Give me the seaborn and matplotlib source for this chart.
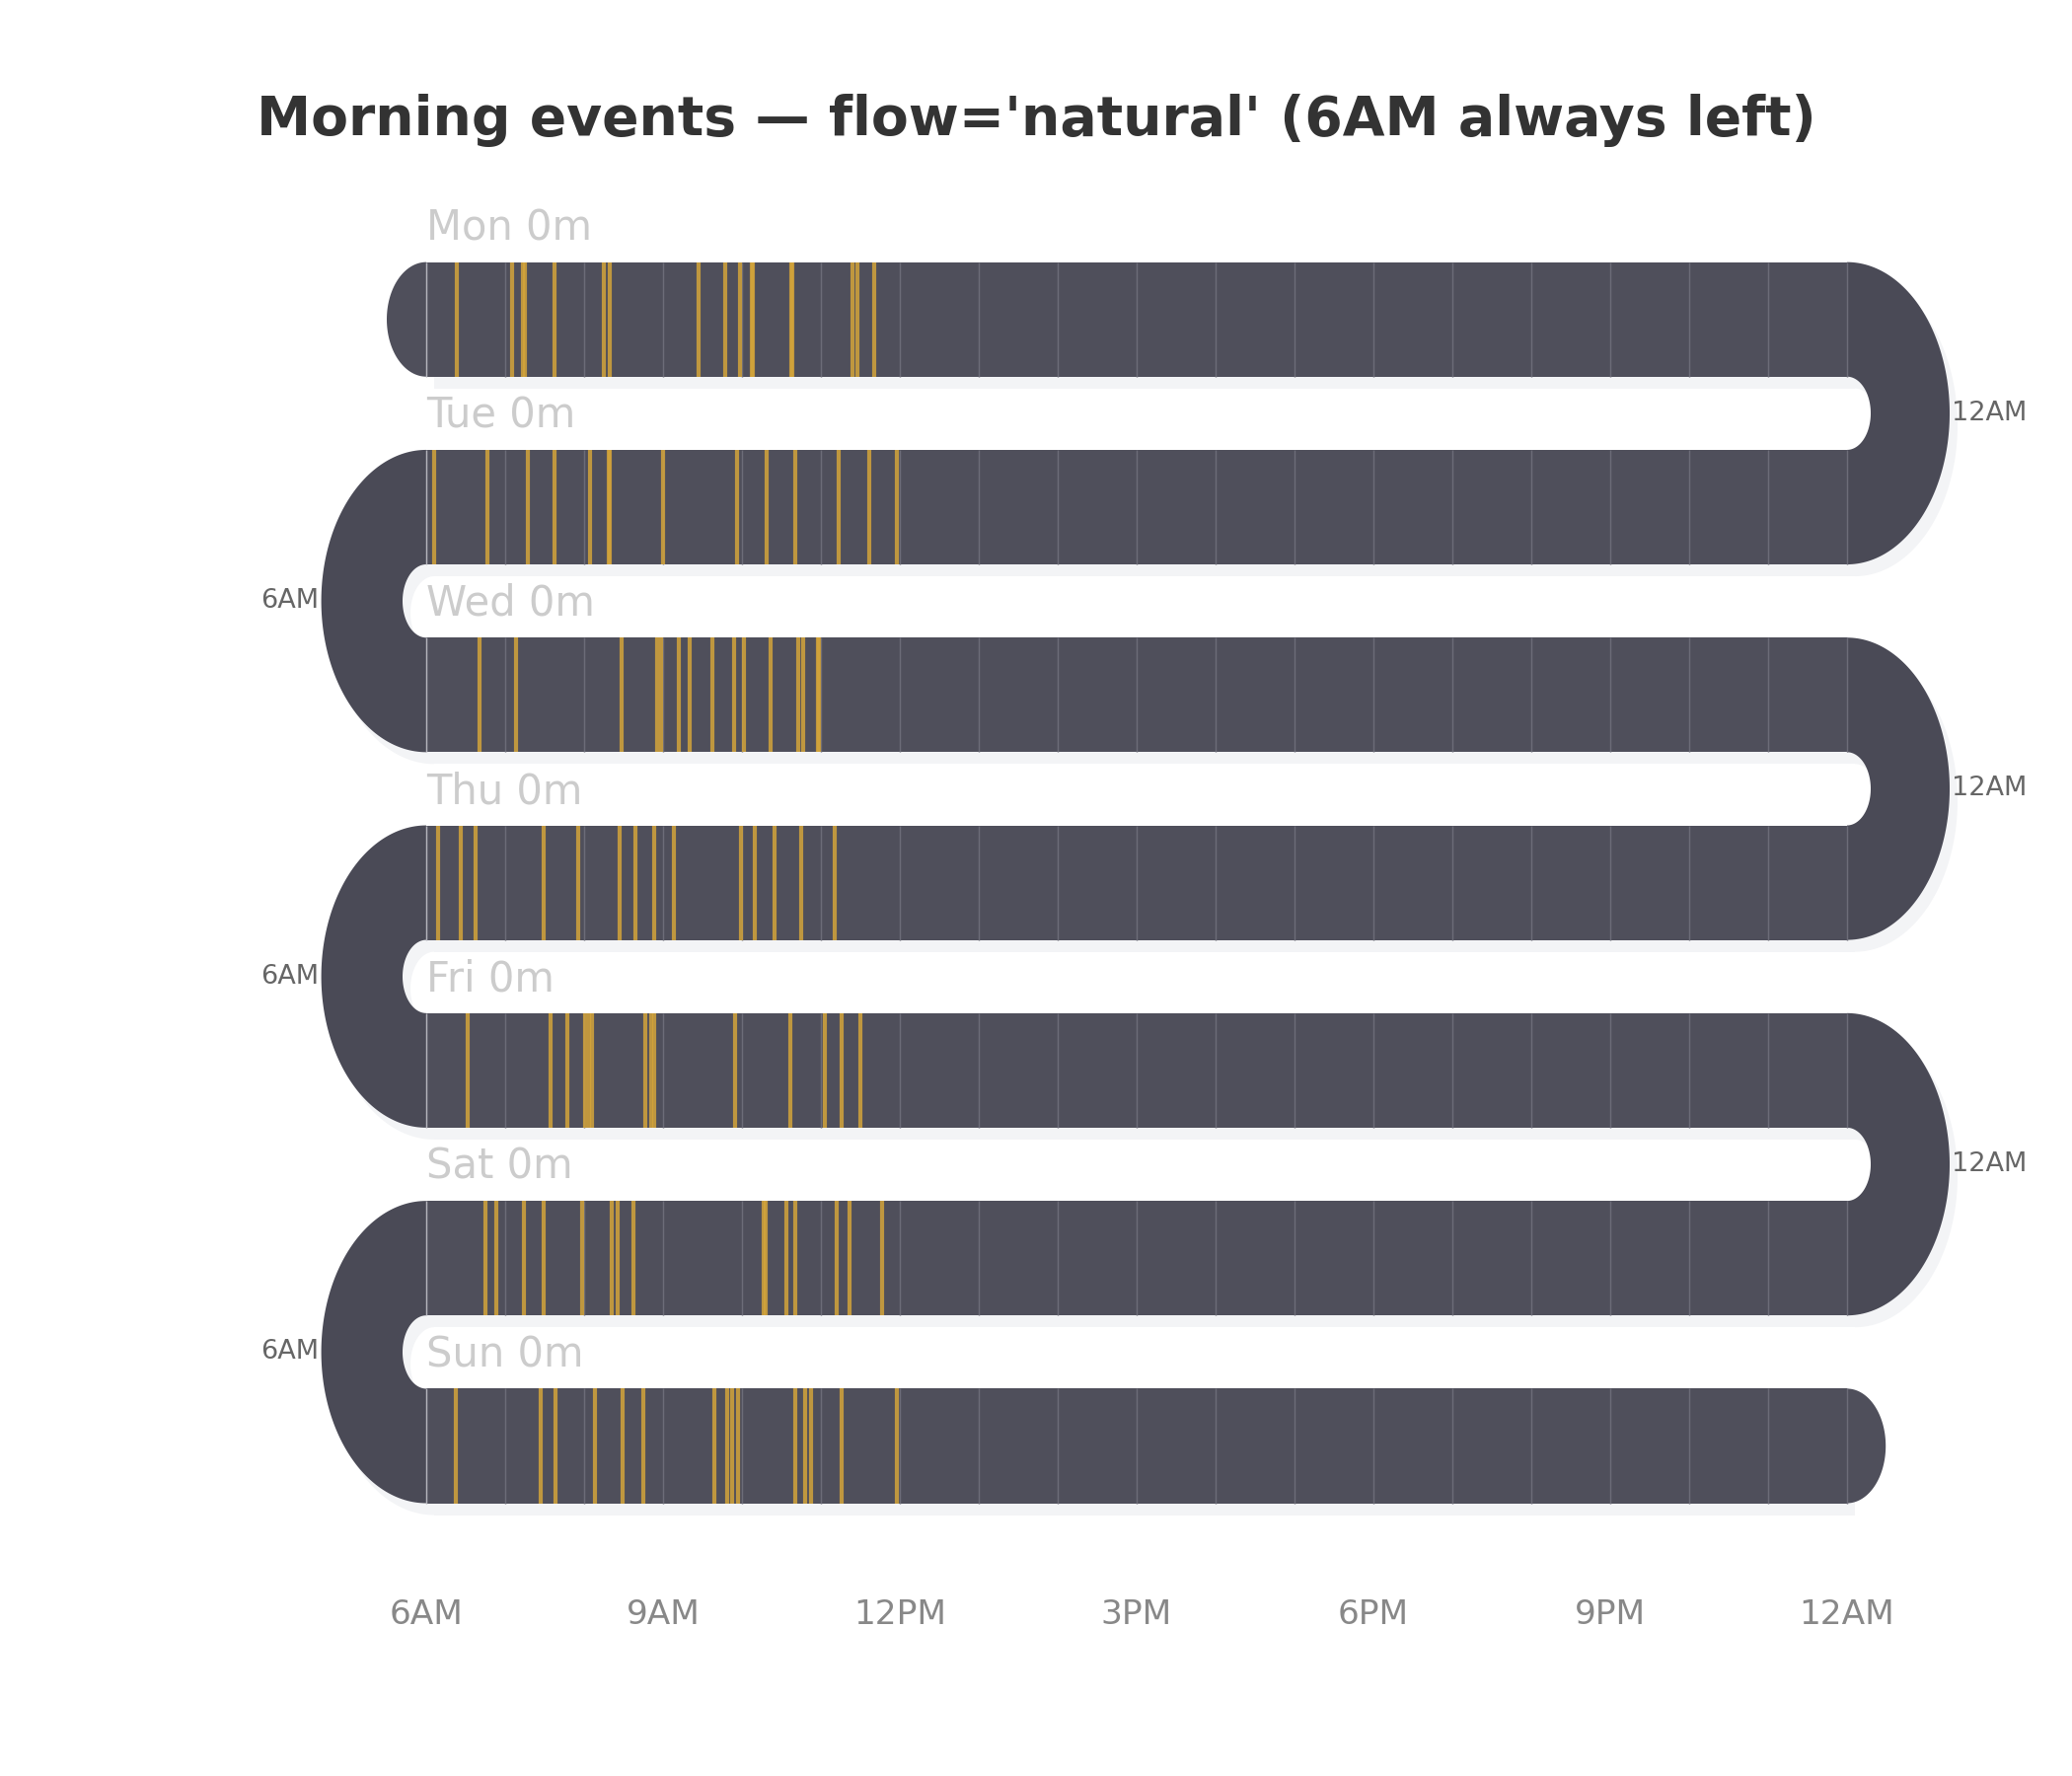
import numpy as np
import pandas as pd
import matplotlib
matplotlib.use("Agg")
import matplotlib.pyplot as plt
import matplotlib.transforms as mtransforms
from matplotlib.patches import Polygon, Rectangle
import seaborn as sns

# event clock times (decimal hours)
days = ["Mon", "Tue", "Wed", "Thu", "Fri", "Sat", "Sun"]
durations = ["0m", "0m", "0m", "0m", "0m", "0m", "0m"]
mon = [6.39, 7.09, 7.23, 7.25, 7.62, 8.25, 8.32, 9.45, 9.79, 9.98, 10.12, 10.14, 10.62, 10.64, 11.40, 11.46, 11.68]
tue = [6.10, 6.77, 7.29, 7.62, 8.07, 8.31, 8.33, 9.00, 9.94, 10.31, 10.68, 11.23, 11.61, 11.96]
wed = [6.68, 7.14, 8.48, 8.92, 8.98, 9.20, 9.34, 9.62, 9.90, 10.03, 10.36, 10.71, 10.78, 10.96, 10.98]
thu = [6.15, 6.44, 6.63, 7.49, 7.92, 8.45, 8.65, 8.89, 9.14, 9.99, 10.16, 10.41, 10.75, 11.18]
fri = [6.53, 7.57, 7.79, 8.01, 8.06, 8.10, 8.77, 8.85, 8.89, 9.91, 10.61, 11.05, 11.26, 11.50]
sat = [6.75, 6.89, 7.24, 7.49, 7.97, 8.35, 8.42, 8.62, 10.28, 10.30, 10.56, 10.68, 11.20, 11.36, 11.78]
sun = [6.38, 7.45, 7.64, 8.14, 8.49, 8.75, 9.65, 9.81, 9.87, 9.95, 10.68, 10.80, 10.88, 11.26, 11.96]
tick_hours = [6, 9, 12, 15, 18, 21, 24]
tick_labels = ["6AM", "9AM", "12PM", "3PM", "6PM", "9PM", "12AM"]

events = pd.DataFrame(
    [(d, t) for d, ts in zip(days, [mon, tue, wed, thu, fri, sat, sun]) for t in ts],
    columns=["day", "hour"],
)
events["row"] = events["day"].map({d: i for i, d in enumerate(days)})

sns.set_theme(style="white")
plt.rcParams["font.family"] = ["DejaVu Sans"]

BAND = 0.61
HALF = BAND / 2
START, END = 6, 24
band_col = "#4f4f5b"
turn_col = "#4a4a56"
shadow_col = "#f3f4f6"
grid_col = "#6c6c78"
event_col = "#d4a43a"

fig = plt.figure(figsize=(14, 12), dpi=150)
ax = fig.add_axes([0, 0, 1, 1])
ax.set_xlim(0.6, 26.85)
ax.set_ylim(7.758, -1.701)
ax.axis("off")

shadow_tr = mtransforms.offset_copy(ax.transData, fig=fig, x=8, y=-12, units="dots")


def half_ring(xc, yc, rx_out, ry_out, rx_in, ry_in, side):
    th = np.linspace(-np.pi / 2, np.pi / 2, 120)
    outer = np.column_stack([xc + side * rx_out * np.cos(th), yc + ry_out * np.sin(th)])
    inner = np.column_stack([xc + side * rx_in * np.cos(th[::-1]), yc + ry_in * np.sin(th[::-1])])
    return np.vstack([outer, inner])


def half_cap(xc, yc, rx, ry, side):
    th = np.linspace(-np.pi / 2, np.pi / 2, 80)
    return np.column_stack([xc + side * rx * np.cos(th), yc + ry * np.sin(th)])


shapes = []
for i in range(len(days)):
    shapes.append(("rect", i))
for i in range(len(days) - 1):
    shapes.append(("turn", i))

for kind, i in shapes:
    for tr, col, z in [(shadow_tr, shadow_col, 1), (ax.transData, None, 2)]:
        if kind == "rect":
            p = Rectangle((START, i - HALF), END - START, BAND, transform=tr,
                          facecolor=col or band_col, edgecolor="none", zorder=z + 0.5)
        else:
            right = i % 2 == 0
            xc = END if right else START
            side = 1 if right else -1
            rx_out = 1.3 if right else 1.33
            pts = half_ring(xc, i + 0.5, rx_out, 0.5 + HALF, 0.3, 0.5 - HALF, side)
            p = Polygon(pts, closed=True, transform=tr,
                        facecolor=col or turn_col, edgecolor="none", zorder=z)
        ax.add_patch(p)

# start / end caps
ax.add_patch(Polygon(half_cap(START, 0, 0.5, HALF, -1), closed=True,
                     facecolor=band_col, edgecolor="none", zorder=2.5))
ax.add_patch(Polygon(half_cap(END, len(days) - 1, 0.49, HALF, 1), closed=True,
                     facecolor=band_col, edgecolor="none", zorder=2.5))

# hour grid
for i in range(len(days)):
    ax.vlines(np.arange(START + 1, END + 1), i - HALF, i + HALF, color=grid_col, lw=0.7, zorder=3)
    ax.vlines([START], i - HALF, i + HALF, color="#b4b4bc", lw=0.7, zorder=3)

# events
ax.vlines(events["hour"], events["row"] - HALF, events["row"] + HALF,
          color=event_col, alpha=0.85, lw=2.0, zorder=4)

# day labels
for i, (d, dur) in enumerate(zip(days, durations)):
    ax.text(START, i - 0.485, f"{d} {dur}", ha="left", va="center",
            fontsize=20, color="#cccccc", zorder=5)

# turn labels
for i in range(len(days) - 1):
    if i % 2 == 0:
        ax.text(25.33, i + 0.5, "12AM", ha="left", va="center", fontsize=13, color="#666666")
    else:
        ax.text(4.64, i + 0.5, "6AM", ha="right", va="center", fontsize=13, color="#666666")

# bottom hour ticks
for h, lab in zip(tick_hours, tick_labels):
    ax.text(h, 6.90, lab, ha="center", va="center", fontsize=16.5, color="#888888")

fig.text(0.5, 0.932, "Morning events \u2014 flow='natural' (6AM always left)",
         ha="center", va="center", fontsize=26.5, fontweight="bold", color="#333333")

fig.savefig("out.png", dpi=150)
